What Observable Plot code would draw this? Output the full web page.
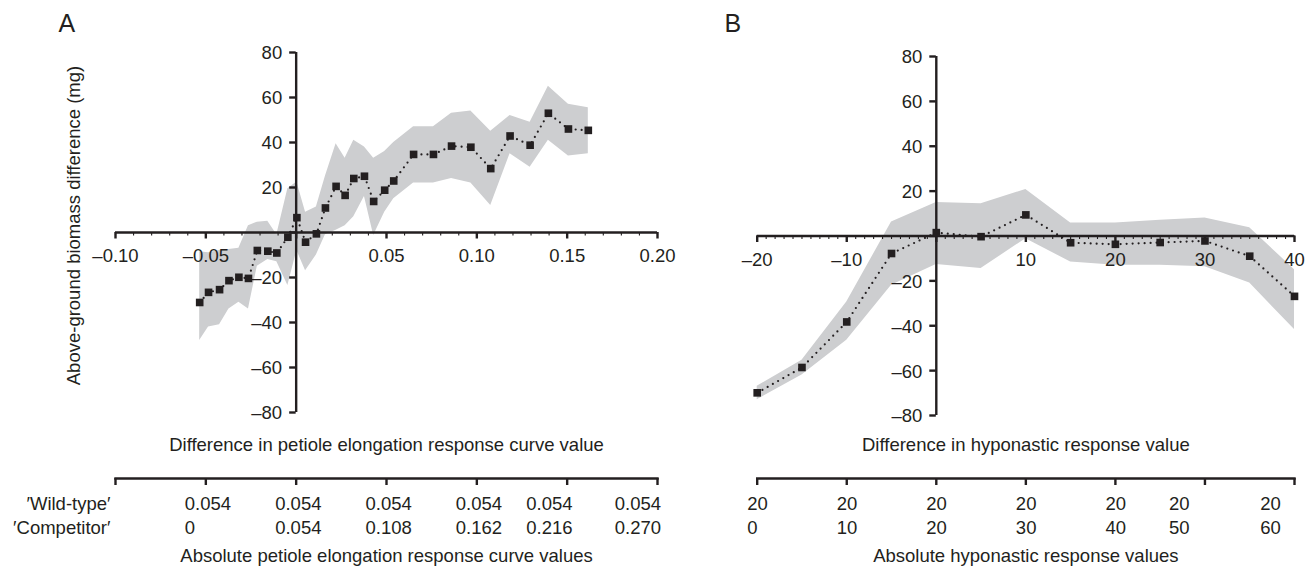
<!DOCTYPE html>
<html><head><meta charset="utf-8">
<script src="https://cdn.jsdelivr.net/npm/d3@7"></script>
<script src="https://cdn.jsdelivr.net/npm/@observablehq/plot@0.6"></script>
<style>
body{margin:0;background:#fff;}
#wrap{display:flex;width:1309px;height:567px;overflow:hidden;}
#wrap svg{display:block;}
</style></head><body><div id="wrap"></div>
<script>
// ---------- Panel A : petiole elongation ----------
const aX  = [-0.0534,-0.0485,-0.0424,-0.0372,-0.0317,-0.0264,-0.0215,-0.0157,-0.0107,-0.0046,0.0004,0.0052,0.0112,0.0162,0.0221,0.0271,0.0319,0.0378,0.0429,0.049,0.054,0.065,0.076,0.086,0.0967,0.1077,0.1184,0.1295,0.1396,0.1507,0.1617];
const aY  = [-31.1,-26.6,-25.4,-21.4,-19.9,-20.4,-8.0,-8.3,-9.1,-2.1,6.6,-4.3,-0.6,10.9,20.5,16.5,24.0,25.0,13.8,18.8,22.9,34.7,34.7,38.4,37.9,28.4,42.9,38.8,53.0,46.0,45.4];
const aLo = [-48,-42,-41,-34,-31,-34,-15,-12,-13,-23.5,-8,-17,-10,-1,1,3,7,16,-1.3,9,15,22,22,24,22,12,35,29,41,34,35];
const aHi = [-8.5,-9,-8,-7.5,-7,3,4.6,5,-1,19.5,22.4,9,11.3,25,39.5,33,41,38,33,36,40,47,47,53,54,45,52,49,65,57,55.5];
const aXTicks = [-0.10,-0.05,0,0.05,0.10,0.15,0.20];
const aXTickLabels = ["\u20130.10","\u20130.05","","0.05","0.10","0.15","0.20"];
const aAbsTicks = [-0.10,-0.05,0,0.05,0.10,0.15,0.20];
const aAbsAt = [-0.05,0,0.05,0.10,0.139,0.188];
const aWild = ["0.054","0.054","0.054","0.054","0.054","0.054"];
const aComp = ["0","0.054","0.108","0.162","0.216","0.270"];

// ---------- Panel B : hyponastic response ----------
const bX  = [-20,-15,-10,-5,0,5,10,15,20,25,30,35,40];
const bY  = [-69.9,-58.6,-38.3,-7.8,1.5,-0.3,9.4,-3.0,-3.7,-2.9,-2.2,-9.0,-26.9];
const bLo = [-73,-62,-46.5,-22,-12.7,-14.5,-1.2,-11.6,-13,-13,-13.7,-21,-41.7];
const bHi = [-67,-55.4,-29.4,6.2,14.9,14.4,20.7,5.8,5.8,7,8,3.7,-15];
const bXTicks = [-20,-10,0,10,20,30,40];
const bXTickLabels = ["\u201320","\u201310","","10","20","30","40"];
const bAbsTicks = [-20,-10,0,10,20,30,40];
const bAbsAt = [-20,-10,0,10,20,27.1,37.3];
const bWild = ["20","20","20","20","20","20","20"];
const bComp = ["0","10","20","30","40","50","60"];

// ---------- shared y axis ----------
const yTicks = [-80,-60,-40,-20,0,20,40,60,80];
const yTickLabels = ["\u201380","\u201360","\u201340","\u201320","","20","40","60","80"];

const INK = "#231f20";
const BAND = "#cdced0";
const FONT = "'Liberation Sans', Arial, Helvetica, sans-serif";

function panel(c) {
  const rows = c.xs.map((x, i) => ({x, y: c.ys[i], lo: c.lo[i], hi: c.hi[i]}));
  const xt = c.xTicks.map((v, i) => ({v, t: c.xTickLabels[i]})).filter(d => d.t);
  const yt = yTicks.map((v, i) => ({v, t: yTickLabels[i]})).filter(d => d.t);
  const ab = c.absAt.map((v, i) => ({v, w: c.wild[i], k: c.comp[i]}));
  const xa = c.xTicks[0], xb = c.xTicks[c.xTicks.length - 1];
  const ya = yTicks[0], yb = yTicks[yTicks.length - 1];
  const mid = {lineAnchor: "middle", fill: INK};
  const marks = [
    Plot.areaY(rows, {x: "x", y1: "lo", y2: "hi", fill: BAND}),
    Plot.ruleY([0], {x1: xa, x2: xb, stroke: INK, strokeWidth: 2.4}),
    Plot.ruleX([0], {y1: ya, y2: yb, stroke: INK, strokeWidth: 2.4}),
    Plot.ruleX(c.xMinor, {y1: 0, y2: 0, insetBottom: -3.5, stroke: INK, strokeWidth: 1.1}),
    Plot.ruleX(c.xTicks, {y1: 0, y2: 0, insetBottom: -6.5, stroke: INK, strokeWidth: 2.4}),
    Plot.ruleY(yTicks, {x1: 0, x2: 0, insetLeft: -6.5, stroke: INK, strokeWidth: 2.4}),
    Plot.text(xt, {x: "v", y: 0, text: "t", dy: 24, ...mid}),
    Plot.text(yt, {x: 0, y: "v", text: "t", textAnchor: "end", dx: -14, dy: 1, ...mid}),
    Plot.line(rows, {x: "x", y: "y", stroke: INK, strokeWidth: 2.2, strokeDasharray: "0,6", strokeLinecap: "round"}),
    Plot.dot(rows, {x: "x", y: "y", symbol: "square", r: 4.3, fill: INK, stroke: null}),
    // secondary (absolute values) axis
    Plot.frame({anchor: "bottom", stroke: INK, strokeWidth: 2.4}),
    Plot.axisX(c.absTicks, {anchor: "bottom", tickSize: 7, strokeWidth: 2.4, stroke: INK, tickFormat: () => "", label: null}),
    Plot.text(ab, {x: "v", frameAnchor: "bottom", text: "w", textAnchor: "start", dx: c.colDx, dy: 26, ...mid}),
    Plot.text(ab, {x: "v", frameAnchor: "bottom", text: "k", textAnchor: "start", dx: c.colDx, dy: 50, ...mid}),
    Plot.text([c.xTitle], {frameAnchor: "bottom", text: d => d, textAnchor: "middle", dy: -33, ...mid}),
    Plot.text([c.absTitle], {frameAnchor: "bottom", text: d => d, textAnchor: "middle", dy: 78, ...mid}),
    Plot.text([c.letter], {frameAnchor: "top-left", text: d => d, textAnchor: "start", dx: c.letterDx, dy: c.letterDy, fontSize: 25, ...mid})
  ];
  if (c.rowHeads) {
    marks.push(Plot.text([c.rowHeads[0]], {frameAnchor: "bottom-left", text: d => d, textAnchor: "end", dx: -5, dy: 26, ...mid}));
    marks.push(Plot.text([c.rowHeads[1]], {frameAnchor: "bottom-left", text: d => d, textAnchor: "end", dx: -5, dy: 50, ...mid}));
  }
  if (c.yTitle) {
    marks.push(Plot.text([c.yTitle], {frameAnchor: "left", text: d => d, rotate: -90, textAnchor: "middle", dx: -41, dy: -40, ...mid}));
  }
  return Plot.plot({
    width: c.width, height: 567,
    marginLeft: c.ml, marginRight: c.mr, marginTop: c.mt, marginBottom: 89,
    x: {domain: [xa, xb]},
    y: {domain: [ya, yb], insetBottom: c.insetB, axis: null},
    style: {fontFamily: FONT, fontSize: "18.5px", color: INK, background: "#fff", overflow: "visible"},
    marks
  });
}

const wrap = document.getElementById("wrap");
wrap.appendChild(panel({
  width: 700, ml: 115, mr: 43, mt: 52, insetB: 66,
  xs: aX, ys: aY, lo: aLo, hi: aHi,
  xTicks: aXTicks, xTickLabels: aXTickLabels,
  xMinor: d3.range(-10, 21).map(d => d / 100),
  absTicks: aAbsTicks, absAt: aAbsAt, wild: aWild, comp: aComp, colDx: -21,
  xTitle: "Difference in petiole elongation response curve value",
  absTitle: "Absolute petiole elongation response curve values",
  letter: "A", letterDx: -57, letterDy: -28.6,
  rowHeads: ["\u2032Wild-type\u2032", "\u2032Competitor\u2032"],
  yTitle: "Above-ground biomass difference (mg)"
}));
wrap.appendChild(panel({
  width: 609, ml: 56.7, mr: 15, mt: 56, insetB: 63,
  xs: bX, ys: bY, lo: bLo, hi: bHi,
  xTicks: bXTicks, xTickLabels: bXTickLabels,
  xMinor: d3.range(-20, 41),
  absTicks: bAbsTicks, absAt: bAbsAt, wild: bWild, comp: bComp, colDx: -10,
  xTitle: "Difference in hyponastic response value",
  absTitle: "Absolute hyponastic response values",
  letter: "B", letterDx: -32.7, letterDy: -32.6
}));
</script>
</body></html>
